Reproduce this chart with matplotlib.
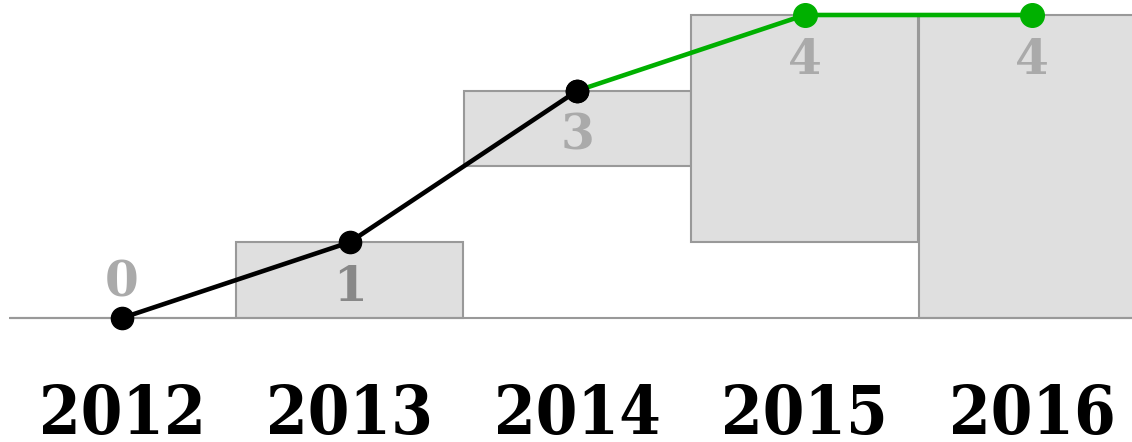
import matplotlib
matplotlib.use('Agg')
import matplotlib.pyplot as plt
import numpy as np

# data
years = ['2012', '2013', '2014', '2015', '2016']
values = [0, 1, 3, 4, 4]
box_bottom = [0, 0, 2, 1, 0]
label_colors = ['#aaaaaa', '#888888', '#aaaaaa', '#aaaaaa', '#aaaaaa']
split_index = 2  # line turns green after 2014

fig = plt.figure(figsize=(11.32, 4.42), dpi=100)
ax = fig.add_axes([0, 0, 1, 1])
step = 227.6
ax.set_xlim(-122 / step, (1132 - 122) / step)
ax.set_ylim(-1.637, 4.198)
ax.axis('off')

x = np.arange(len(years))

# gray boxes between previous level and current value
heights = np.array(values) - np.array(box_bottom)
ax.bar(x, heights, bottom=box_bottom, width=0.997, color='#dfdfdf',
       edgecolor='#999999', linewidth=1.5, zorder=1)

# baseline
ax.hlines(0, -0.49, x[-1] + 0.5, color='#999999', linewidth=1.5, zorder=2)

# value labels
for xi, v, c in zip(x, values, label_colors):
    ly = v - 0.6 if v > 0 else 0.46
    ax.text(xi, ly, str(v), ha='center', va='center',
            fontsize=35, fontweight='bold', family='DejaVu Serif', color=c, zorder=3)

# line: black then green
ax.plot(x[:split_index + 1], values[:split_index + 1], color='black', linewidth=3.3,
        marker='o', markersize=16, zorder=4)
ax.plot(x[split_index:], values[split_index:], color='#00b000', linewidth=3.3, zorder=4)
ax.plot(x[split_index + 1:], values[split_index + 1:], 'o', color='#00b000',
        markersize=17, zorder=5)
ax.plot(x[split_index], values[split_index], 'o', color='black', markersize=16, zorder=6)

# year labels
for xi, yr in zip(x, years):
    ax.text(xi, -1.53, yr, ha='center', va='baseline', fontsize=48,
            fontweight='bold', family='DejaVu Serif', fontstretch='condensed')

fig.savefig('out.png', dpi=100)
